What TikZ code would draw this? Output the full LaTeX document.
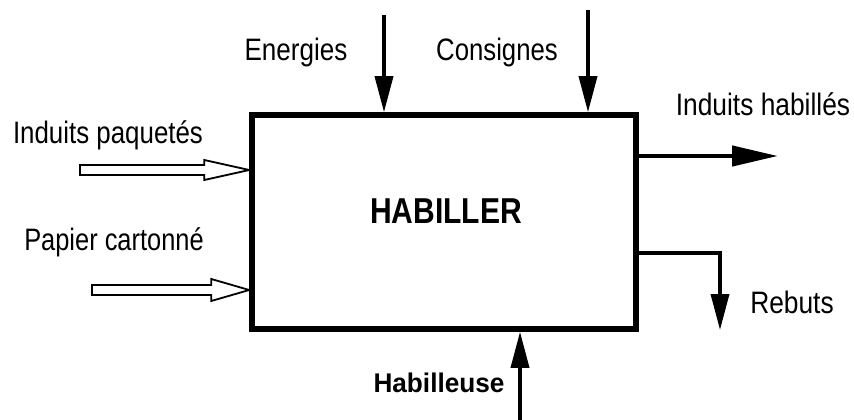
\documentclass[tikz,border=0pt]{standalone}
\usepackage{fontspec}
\setmainfont{Liberation Sans}
\usetikzlibrary{arrows.meta}
\newcommand\sqz[2]{\scalebox{#1}[1]{#2}}
\begin{document}
\begin{tikzpicture}[x=1pt,y=1pt,
  lbl/.style={inner sep=0pt, anchor=base, font=\fontsize{31}{33}\selectfont},
  blbl/.style={inner sep=0pt, anchor=base, font=\fontsize{27}{29}\selectfont\bfseries},
  flow/.style={line width=3.5pt, -{Triangle[length=36pt,width=18pt]}},
  hollow/.style={line width=1.8pt, line join=miter, fill=white}]
\useasboundingbox (0,0) rectangle (854,-420);
% main box
\node[draw, line width=5.5pt, minimum width=384pt, minimum height=214pt, inner sep=0pt] (box) at (444,-222) {};
\node[inner sep=0pt, anchor=base, font=\fontsize{36}{38}\selectfont\bfseries] (title) at (446,-223) {\sqz{0.835}{HABILLER}};
% labels
\node[lbl] (lip) at (108,-143) {\sqz{0.835}{Induits paquetés}};
\node[lbl] (lpc) at (114,-250) {\sqz{0.82}{Papier cartonné}};
\node[lbl] (len) at (296,-60) {\sqz{0.84}{Energies}};
\node[lbl] (lco) at (497,-60) {\sqz{0.83}{Consignes}};
\node[lbl] (lih) at (763,-115) {\sqz{0.85}{Induits habillés}};
\node[lbl] (lre) at (792,-313) {\sqz{0.85}{Rebuts}};
\node[blbl] (lha) at (439,-392) {\sqz{0.97}{Habilleuse}};
% coordinates
\coordinate (ip) at (80,-170);
\coordinate (ipt) at (box.west |- ip);
\coordinate (pc) at (92,-290);
\coordinate (pct) at (box.west |- pc);
\coordinate (en) at (384,-15);
\coordinate (co) at (588,-10);
\coordinate (ha) at (520,-420);
\coordinate (ih) at (778,-156);
\coordinate (ihs) at (box.east |- ih);
\coordinate (rb) at (720,-330);
\coordinate (rbs) at (box.east |- 0,-253);
% hollow input arrows
\draw[hollow] ([yshift=5pt]ip) -- ([xshift=-45pt,yshift=5pt]ipt) -- ([xshift=-45pt,yshift=10pt]ipt)
  -- (ipt) -- ([xshift=-45pt,yshift=-10pt]ipt) -- ([xshift=-45pt,yshift=-5pt]ipt) -- ([yshift=-5pt]ip) -- cycle;
\draw[hollow] ([yshift=5pt]pc) -- ([xshift=-38pt,yshift=5pt]pct) -- ([xshift=-38pt,yshift=11pt]pct)
  -- (pct) -- ([xshift=-38pt,yshift=-11pt]pct) -- ([xshift=-38pt,yshift=-5pt]pct) -- ([yshift=-5pt]pc) -- cycle;
% control and mechanism arrows
\draw[flow] (en) -- (en |- box.north);
\draw[flow] (co) -- (co |- box.north);
\draw[flow] (ha) -- (ha |- box.south);
% outputs
\draw[line width=4.5pt, -{Triangle[length=46pt,width=20pt]}] (ihs) -- (ih);
\draw[flow, line join=miter] (rbs) -| (rb);
\end{tikzpicture}
\end{document}
